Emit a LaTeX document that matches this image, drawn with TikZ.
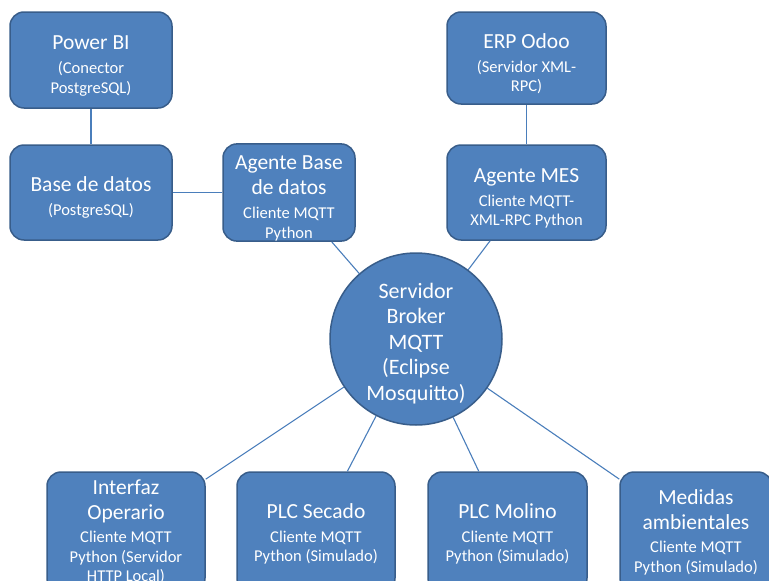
\documentclass[tikz,border=0pt]{standalone}
\usepackage{fontspec}
\setmainfont{Carlito}
\definecolor{boxfill}{HTML}{4F81BD}
\definecolor{boxdraw}{HTML}{385D8A}
\definecolor{linkcol}{HTML}{4A7EBB}
\newcommand{\ttlf}{\fontsize{21.5}{26}\selectfont}
\newcommand{\padtop}[1]{\rule{0pt}{#1}}
\begin{document}
\begin{tikzpicture}[x=1pt,y=-1pt,
  box/.style={draw=boxdraw,fill=boxfill,line width=1.5pt,rounded corners=14pt,
    text=white,align=center,inner sep=0pt,
    font=\fontsize{16.5}{19.5}\selectfont},
  hub/.style={circle,draw=boxdraw,fill=boxfill,line width=1.5pt,text=white,
    align=center,inner sep=0pt,minimum size=172pt,text depth=0pt,
    font=\fontsize{22}{25.5}\selectfont},
  link/.style={draw=linkcol,line width=1.1pt}]
\useasboundingbox (0,0) rectangle (769,581);
\clip (0,0) rectangle (769,581);
\node[box,minimum width=162pt,minimum height=96pt] (pbi) at (91,60)
  {{\ttlf \padtop{26pt}Power BI}\\[4.5pt](Conector\\PostgreSQL)};
\node[box,minimum width=162pt,minimum height=95pt] (bd) at (91,192.5)
  {{\ttlf \padtop{25pt}Base de datos}\\[4pt](PostgreSQL)};
\node[box,minimum width=132pt,minimum height=95pt] (abd) at (289,192.5)
  {{\ttlf \padtop{26pt}Agente Base}\\[5.5pt]{\ttlf de datos}\\[4.5pt]Cliente MQTT\\Python};
\node[box,minimum width=159pt,minimum height=92pt] (erp) at (526.5,58)
  {{\ttlf \padtop{26pt}ERP Odoo}\\[4.5pt](Servidor XML-\\RPC)};
\node[box,minimum width=159pt,minimum height=95pt] (mes) at (526.5,192.5)
  {{\ttlf \padtop{26pt}Agente MES}\\[4.5pt]Cliente MQTT-\\XML-RPC Python};
\node[hub] (broker) at (416,339)
  {\padtop{20pt}Servidor\\Broker\\MQTT\\(Eclipse\\Mosquitto)};
\node[box,minimum width=158pt,minimum height=120pt] (hmi) at (126,532)
  {{\ttlf Interfaz}\\[6pt]{\ttlf Operario}\\[3.5pt]Cliente MQTT\\Python (Servidor\\HTTP Local)};
\node[box,minimum width=158pt,minimum height=120pt] (plcs) at (316,532)
  {{\ttlf \padtop{19pt}PLC Secado}\\[4.5pt]Cliente MQTT\\Python (Simulado)};
\node[box,minimum width=159pt,minimum height=120pt] (plcm) at (507.5,532)
  {{\ttlf \padtop{19pt}PLC Molino}\\[4.5pt]Cliente MQTT\\Python (Simulado)};
\node[box,minimum width=152pt,minimum height=120pt] (amb) at (696,532)
  {{\ttlf Medidas}\\[6pt]{\ttlf ambientales}\\[3.5pt]Cliente MQTT\\Python (Simulado)};
\draw[link] (pbi) -- (bd);
\draw[link] (bd) -- (abd);
\draw[link] (erp) -- (mes);
\draw[link] (abd) -- (broker);
\draw[link] (mes) -- (broker);
\draw[link] (broker) -- (hmi);
\draw[link] (broker) -- (plcs);
\draw[link] (broker) -- (plcm);
\draw[link] (broker) -- (amb);
\end{tikzpicture}
\end{document}
